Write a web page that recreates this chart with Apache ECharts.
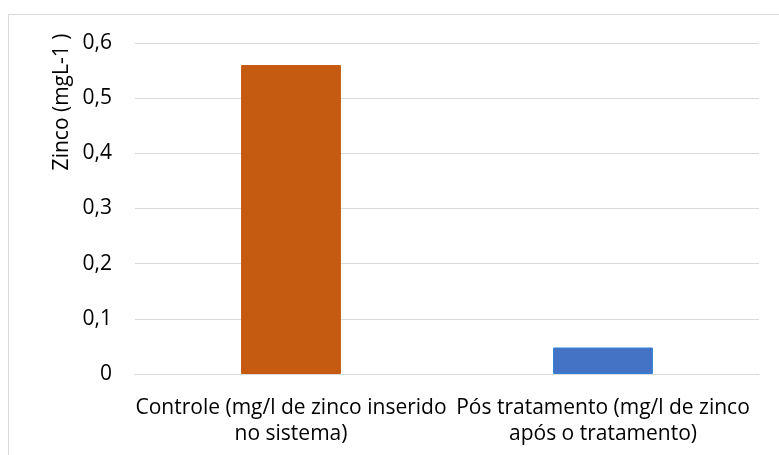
<!DOCTYPE html>
<html>
<head>
<meta charset="utf-8">
<script src="https://cdn.jsdelivr.net/npm/echarts@6/dist/echarts.min.js"></script>
<style>
  html, body { margin: 0; padding: 0; background: #fff; }
  #chart { width: 779px; height: 455px; }
</style>
</head>
<body>
<div id="chart"></div>
<script>
// Zinc concentration: control vs. after treatment
const categories = [
  'Controle (mg/l de zinco inserido\nno sistema)',
  'Pós tratamento (mg/l de zinco\napós o tratamento)'
];
const zincValues = [0.56, 0.048];
const barColors = ['#C55A11', '#4472C4'];
const barBorders = ['#C55A11', '#2E83D6'];
const yTicks = { min: 0, max: 0.6, interval: 0.1 };
const yAxisTitle = 'Zinco (mgL-1 )';

const FONT = '"Open Sans", "Noto Sans", sans-serif';

const chart = echarts.init(document.getElementById('chart'), null, { renderer: 'canvas' });

chart.setOption({
  animation: false,
  backgroundColor: '#ffffff',
  grid: { left: 135, right: 20, top: 43, bottom: 81, containLabel: false },
  graphic: [
    {
      type: 'rect',
      shape: { x: 8.5, y: 14.5, width: 900, height: 600 },
      style: { fill: 'none', stroke: '#D9D9D9', lineWidth: 1 },
      silent: true, z: -1
    },
    {
      type: 'text',
      x: 62, y: 102,
      rotation: Math.PI / 2,
      style: {
        text: yAxisTitle,
        font: '21px ' + FONT,
        fill: '#000000',
        align: 'center',
        verticalAlign: 'middle'
      }
    }
  ],
  xAxis: {
    type: 'category',
    data: categories,
    axisLine: { show: true, lineStyle: { color: '#D9D9D9', width: 1 } },
    axisTick: { show: false },
    axisLabel: {
      color: '#000000',
      fontFamily: FONT,
      fontSize: 21,
      lineHeight: 26,
      margin: 21,
      interval: 0
    },
    splitLine: { show: false }
  },
  yAxis: {
    type: 'value',
    min: yTicks.min,
    max: yTicks.max,
    interval: yTicks.interval,
    axisLine: { show: false },
    axisTick: { show: false },
    axisLabel: {
      color: '#000000',
      fontFamily: FONT,
      fontSize: 21,
      margin: 23,
      formatter: v => (Math.round(v * 10) / 10).toString().replace('.', ',')
    },
    splitLine: { lineStyle: { color: '#D9D9D9', width: 1 } }
  },
  series: [{
    type: 'bar',
    barWidth: '32%',
    data: zincValues.map((v, i) => ({
      value: v,
      itemStyle: { color: barColors[i], borderColor: barBorders[i], borderWidth: 1 }
    }))
  }]
});
</script>
</body>
</html>
